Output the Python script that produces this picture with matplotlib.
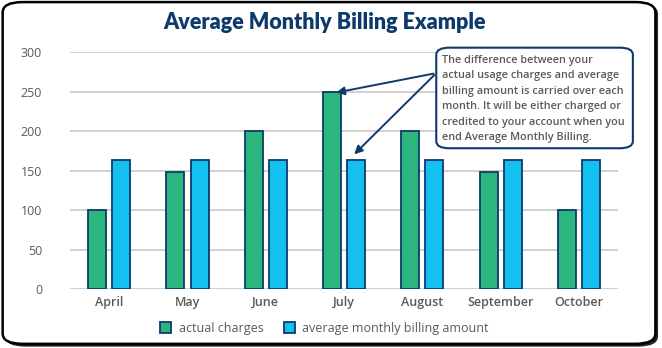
import matplotlib.pyplot as plt
import numpy as np
from matplotlib.patches import FancyBboxPatch

# Data
months = ['April', 'May', 'June', 'July', 'August', 'September', 'October']
actual_charges = [100, 148, 200, 250, 200, 148, 100]
average_billing = [163, 163, 163, 163, 163, 163, 163]
y_ticks = [0, 50, 100, 150, 200, 250, 300]

navy = '#0d3a6b'
green = '#2bb67f'
blue = '#14c0f0'
gray_text = '#5a5a5a'

plt.rcParams['font.family'] = ['Open Sans', 'DejaVu Sans']

fig = plt.figure(figsize=(6.62, 3.48), dpi=100)

# Outer rounded frame with a small shadow
shadow = FancyBboxPatch((0.008, 0.004), 0.986, 0.986, boxstyle='round,pad=0,rounding_size=0.03',
                        transform=fig.transFigure, facecolor='#222222', edgecolor='none', zorder=-2)
frame = FancyBboxPatch((0.004, 0.012), 0.986, 0.982, boxstyle='round,pad=0,rounding_size=0.03',
                       transform=fig.transFigure, facecolor='white', edgecolor='black', linewidth=1.8, zorder=-1)
fig.patches.extend([shadow, frame])

ax = fig.add_axes([0.1057, 0.1695, 0.828, 0.681])
ax.patch.set_alpha(0)

x = np.arange(len(months))
w = 0.23
off = 0.155
ax.bar(x - off, actual_charges, w, color=green, edgecolor=navy, linewidth=1.3, zorder=3,
       label='actual charges')
ax.bar(x + off, average_billing, w, color=blue, edgecolor=navy, linewidth=1.3, zorder=3,
       label='average monthly billing amount')

ax.set_xlim(-0.5, len(months) - 0.5)
ax.set_ylim(0, 300)
ax.set_yticks(y_ticks)
ax.set_xticks(x)
ax.set_xticklabels(months)
ax.yaxis.grid(True, color='#c8c8c8', linewidth=1.2, zorder=0)
ax.set_axisbelow(True)
for s in ax.spines.values():
    s.set_visible(False)
ax.tick_params(axis='both', length=0, labelsize=9, colors=gray_text)
ax.tick_params(axis='y', pad=20)
ax.tick_params(axis='x', pad=5)
for lbl in ax.get_xticklabels():
    lbl.set_fontweight('semibold')

fig.text(0.49, 0.935, 'Average Monthly Billing Example', ha='center', va='center',
         fontsize=15.5, fontweight='heavy', color=navy, family=['Lato', 'DejaVu Sans'])

# Callout box
note = ('The difference between your\nactual usage charges and average\n'
        'billing amount is carried over each\nmonth. It will be either charged or\n'
        'credited to your account when you\nend Average Monthly Billing.')
box = FancyBboxPatch((0.659, 0.574), 0.297, 0.289, boxstyle='round,pad=0,rounding_size=0.02',
                     transform=fig.transFigure, facecolor='white', edgecolor=navy, linewidth=1.5, zorder=5)
fig.patches.append(box)
fig.text(0.668, 0.842, note, ha='left', va='top', fontsize=7.8, color=gray_text,
         fontweight='semibold', linespacing=1.55, zorder=6)

# Arrows from the callout to the July bars
start = ax.transData.inverted().transform(fig.transFigure.transform((0.659, 0.79)))
ax.annotate('', xy=(3 - off + 0.02, actual_charges[3] - 2), xytext=start,
            arrowprops=dict(arrowstyle='-|>', color=navy, lw=1.4, mutation_scale=12), zorder=6)
ax.annotate('', xy=(3 + off - 0.05, average_billing[3] + 5), xytext=start,
            arrowprops=dict(arrowstyle='-|>', color=navy, lw=1.4, mutation_scale=12), zorder=6)

fig.legend(loc='center', bbox_to_anchor=(0.49, 0.057), ncol=2, frameon=False, fontsize=9,
           handlelength=0.9, handleheight=0.9, columnspacing=1.6, handletextpad=0.6,
           labelcolor=gray_text)

fig.savefig('out.png', dpi=100)
